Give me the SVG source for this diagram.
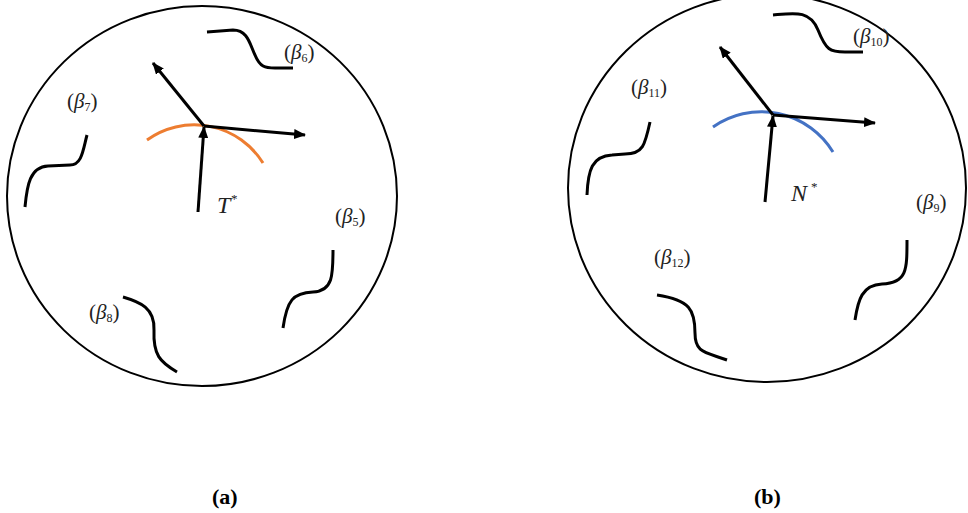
<svg xmlns="http://www.w3.org/2000/svg" width="968" height="513" viewBox="0 0 968 513">
<style>
.ring{fill:none;stroke:#000;stroke-width:2}
.wave{fill:none;stroke:#000;stroke-width:3;stroke-linecap:butt}
.vec{fill:none;stroke:#000;stroke-width:3}
.lbl{font-size:21px;fill:#222}
.it{font-style:italic}
.sub{font-size:12px}
.main{font-size:24px;font-style:italic;fill:#222}
.star{font-size:13px;fill:#222}
.cap{font-size:22px;font-weight:bold;fill:#000}
</style>
<defs>
<marker id="ah" viewBox="0 0 12 10" refX="11" refY="5" markerWidth="12" markerHeight="10" markerUnits="userSpaceOnUse" orient="auto">
<path d="M0,0 L12,5 L0,10 Z" fill="#000"/>
</marker>
</defs>
<rect width="968" height="513" fill="#fff"/>

<g id="panel-a" font-family="'Liberation Serif','DejaVu Serif','Times New Roman',serif">
<ellipse class="ring" cx="202" cy="196" rx="195" ry="190"/>
<path class="wave" d="M207,32 L233,30 C248,30 250,45 255,55 C260,67 265,68 275,68 L293,68"/>
<path class="wave" d="M87,135 C83,150 82,165 70,165 L48,166 C30,167 27,185 25,207"/>
<path class="wave" d="M333,250 C333,275 333,291 313,292 C293,293 287,300 283,328"/>
<path class="wave" d="M123,297 C140,302 155,308 154,330 C153,355 160,362 177,372"/>
<path d="M147,140 A81,81 0 0 1 263,163" fill="none" stroke="#ED7D31" stroke-width="3"/>
<g id="vectors-a">
<line class="vec" x1="198" y1="212" x2="204" y2="127" marker-end="url(#ah)"/>
<line class="vec" x1="204" y1="126" x2="153" y2="63" marker-end="url(#ah)"/>
<line class="vec" x1="204" y1="126" x2="305" y2="135" marker-end="url(#ah)"/>
</g>
<text class="main" x="217" y="213">T</text>
<text class="star" x="231" y="203">*</text>
<text class="lbl" x="284" y="59">(<tspan class="it">β</tspan><tspan class="sub" dy="3">6</tspan><tspan dy="-3">)</tspan></text>
<text class="lbl" x="67" y="108">(<tspan class="it">β</tspan><tspan class="sub" dy="3">7</tspan><tspan dy="-3">)</tspan></text>
<text class="lbl" x="335" y="223">(<tspan class="it">β</tspan><tspan class="sub" dy="3">5</tspan><tspan dy="-3">)</tspan></text>
<text class="lbl" x="89" y="319">(<tspan class="it">β</tspan><tspan class="sub" dy="3">8</tspan><tspan dy="-3">)</tspan></text>
<text class="cap" x="212" y="504">(a)</text>
</g>

<g id="panel-b" font-family="'Liberation Serif','DejaVu Serif','Times New Roman',serif">
<ellipse class="ring" cx="767" cy="188" rx="199" ry="194"/>
<path class="wave" d="M773,15 C795,13 810,10 818,30 C826,50 830,52 845,52 L863,52"/>
<path class="wave" d="M650,122 C645,145 643,154 625,154 L612,155 C592,156 588,170 587,195"/>
<path class="wave" d="M907,240 C907,270 907,283 882,284 C862,285 858,300 855,320"/>
<path class="wave" d="M657,295 C690,300 695,310 695,333 C695,353 705,352 727,360"/>
<path d="M713,127 A84,84 0 0 1 833,152" fill="none" stroke="#4472C4" stroke-width="3"/>
<g id="vectors-b">
<line class="vec" x1="765" y1="202" x2="773" y2="116" marker-end="url(#ah)"/>
<line class="vec" x1="773" y1="115" x2="720" y2="47" marker-end="url(#ah)"/>
<line class="vec" x1="773" y1="115" x2="875" y2="123" marker-end="url(#ah)"/>
</g>
<text class="main" x="791" y="201">N</text>
<text class="star" x="811" y="191">*</text>
<text class="lbl" x="853" y="43">(<tspan class="it">β</tspan><tspan class="sub" dy="3">10</tspan><tspan dy="-3">)</tspan></text>
<text class="lbl" x="631" y="94">(<tspan class="it">β</tspan><tspan class="sub" dy="3">11</tspan><tspan dy="-3">)</tspan></text>
<text class="lbl" x="916" y="209">(<tspan class="it">β</tspan><tspan class="sub" dy="3">9</tspan><tspan dy="-3">)</tspan></text>
<text class="lbl" x="654" y="264">(<tspan class="it">β</tspan><tspan class="sub" dy="3">12</tspan><tspan dy="-3">)</tspan></text>
<text class="cap" x="754" y="504">(b)</text>
</g>
</svg>
